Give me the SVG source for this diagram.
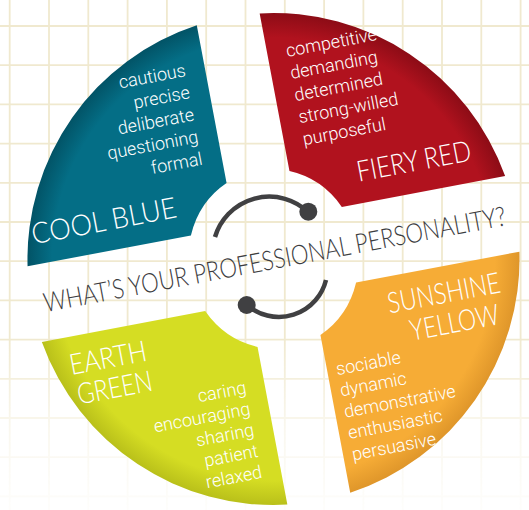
<svg xmlns="http://www.w3.org/2000/svg" width="529" height="510" viewBox="0 0 529 510">
  <defs>
    <style>
      .grid line { stroke: #f0e9cf; stroke-width: 1.8; }
      .word { font-family: Roboto, "Liberation Sans", sans-serif; font-weight: 300; font-size: 18px; fill: #ffffff; }
      .head { font-family: Lato, "Liberation Sans", sans-serif; font-weight: 300; font-size: 29px; fill: #ffffff; }
      .question { font-family: Lato, "Liberation Sans", sans-serif; font-weight: 300; font-size: 27px; fill: #3d3d3f; }
      .loop { fill: none; stroke: #404042; stroke-width: 4.5; }
      .knob { fill: #404042; }
    </style>
    <linearGradient id="fade" x1="0" y1="0" x2="0" y2="510" gradientUnits="userSpaceOnUse">
      <stop offset="0" stop-color="#fff"/>
      <stop offset="0.66" stop-color="#fff"/>
      <stop offset="0.84" stop-color="#fff" stop-opacity="0.35"/>
      <stop offset="1" stop-color="#fff" stop-opacity="0.08"/>
    </linearGradient>
    <mask id="gridMask" maskUnits="userSpaceOnUse" x="0" y="0" width="529" height="510">
      <rect width="529" height="510" fill="url(#fade)"/>
    </mask>
    <radialGradient id="gBlue" gradientUnits="userSpaceOnUse" cx="0" cy="0" r="246">
      <stop offset="0.9" stop-color="#046e86"/>
      <stop offset="1" stop-color="#025366"/>
    </radialGradient>
    <radialGradient id="gRed" gradientUnits="userSpaceOnUse" cx="0" cy="0" r="246">
      <stop offset="0.9" stop-color="#b1121e"/>
      <stop offset="1" stop-color="#8c0c16"/>
    </radialGradient>
    <radialGradient id="gYellow" gradientUnits="userSpaceOnUse" cx="0" cy="0" r="246">
      <stop offset="0.9" stop-color="#f6ac36"/>
      <stop offset="1" stop-color="#df962a"/>
    </radialGradient>
    <radialGradient id="gGreen" gradientUnits="userSpaceOnUse" cx="0" cy="0" r="246">
      <stop offset="0.9" stop-color="#d5dd23"/>
      <stop offset="1" stop-color="#b9c01a"/>
    </radialGradient>
  </defs>

  <rect width="529" height="510" fill="#ffffff"/>

  <!-- graph-paper background, fading out toward the bottom -->
  <g class="grid" mask="url(#gridMask)">
    <line x1="9.7" y1="0" x2="9.7" y2="510"/>
    <line x1="49" y1="0" x2="49" y2="510"/>
    <line x1="88.3" y1="0" x2="88.3" y2="510"/>
    <line x1="127.6" y1="0" x2="127.6" y2="510"/>
    <line x1="166.9" y1="0" x2="166.9" y2="510"/>
    <line x1="206.2" y1="0" x2="206.2" y2="510"/>
    <line x1="245.5" y1="0" x2="245.5" y2="510"/>
    <line x1="284.8" y1="0" x2="284.8" y2="510"/>
    <line x1="324.1" y1="0" x2="324.1" y2="510"/>
    <line x1="363.4" y1="0" x2="363.4" y2="510"/>
    <line x1="402.7" y1="0" x2="402.7" y2="510"/>
    <line x1="442" y1="0" x2="442" y2="510"/>
    <line x1="481.3" y1="0" x2="481.3" y2="510"/>
    <line x1="520.6" y1="0" x2="520.6" y2="510"/>
    <line x1="0" y1="26" x2="529" y2="26"/>
    <line x1="0" y1="65.2" x2="529" y2="65.2"/>
    <line x1="0" y1="104.4" x2="529" y2="104.4"/>
    <line x1="0" y1="143.6" x2="529" y2="143.6"/>
    <line x1="0" y1="182.8" x2="529" y2="182.8"/>
    <line x1="0" y1="222" x2="529" y2="222"/>
    <line x1="0" y1="261.2" x2="529" y2="261.2"/>
    <line x1="0" y1="300.4" x2="529" y2="300.4"/>
    <line x1="0" y1="339.6" x2="529" y2="339.6"/>
    <line x1="0" y1="378.8" x2="529" y2="378.8"/>
    <line x1="0" y1="418" x2="529" y2="418"/>
    <line x1="0" y1="457.2" x2="529" y2="457.2"/>
    <line x1="0" y1="496.4" x2="529" y2="496.4"/>
  </g>

  <!-- the four quadrants, tilted as one wheel -->
  <g transform="translate(273.5 259) rotate(-10.7)">
    <g id="cool-blue">
      <path d="M -32,-83.4 L -32,-243.9 A 246 246 0 0 0 -243,-38.5 L -76.8,-38.5 A 85 90 0 0 1 -32,-83.4 Z" fill="url(#gBlue)"/>
      <g class="word" text-anchor="end">
        <text x="-51.5" y="-196">cautious</text>
        <text x="-51.5" y="-173.5">precise</text>
        <text x="-51.5" y="-151">deliberate</text>
        <text x="-51.5" y="-128.5">questioning</text>
        <text x="-51.5" y="-106">formal</text>
      </g>
      <text class="head" x="-233" y="-59" textLength="147" lengthAdjust="spacingAndGlyphs">COOL BLUE</text>
    </g>

    <g id="fiery-red">
      <path d="M 32,-83.4 L 32,-243.9 A 246 246 0 0 1 243,-38.5 L 76.8,-38.5 A 85 90 0 0 0 32,-83.4 Z" fill="url(#gRed)"/>
      <g class="word">
        <text x="51" y="-196">competitive</text>
        <text x="51" y="-173.5">demanding</text>
        <text x="51" y="-151">determined</text>
        <text x="51" y="-128.5">strong-willed</text>
        <text x="51" y="-106">purposeful</text>
      </g>
      <text class="head" x="98" y="-60" textLength="116" lengthAdjust="spacingAndGlyphs">FIERY RED</text>
    </g>

    <g id="sunshine-yellow">
      <path d="M 32,83.4 L 32,243.9 A 246 246 0 0 0 243,38.5 L 76.8,38.5 A 85 90 0 0 1 32,83.4 Z" fill="url(#gYellow)"/>
      <text class="head" x="104" y="75" textLength="114" lengthAdjust="spacingAndGlyphs">SUNSHINE</text>
      <text class="head" x="121" y="106" textLength="90" lengthAdjust="spacingAndGlyphs">YELLOW</text>
      <g class="word">
        <text x="41" y="126">sociable</text>
        <text x="41" y="147.7">dynamic</text>
        <text x="41" y="169.4">demonstrative</text>
        <text x="41" y="191">enthusiastic</text>
        <text x="41" y="212.7">persuasive</text>
      </g>
    </g>

    <g id="earth-green">
      <path d="M -32,83.4 L -32,243.9 A 246 246 0 0 1 -243,38.5 L -76.8,38.5 A 85 90 0 0 0 -32,83.4 Z" fill="url(#gGreen)"/>
      <text class="head" x="-220" y="76.4" textLength="78" lengthAdjust="spacingAndGlyphs">EARTH</text>
      <text class="head" x="-218" y="107" textLength="76" lengthAdjust="spacingAndGlyphs">GREEN</text>
      <g class="word" text-anchor="end">
        <text x="-51" y="127">caring</text>
        <text x="-51" y="148.5">encouraging</text>
        <text x="-51" y="170">sharing</text>
        <text x="-51" y="191.5">patient</text>
        <text x="-51" y="213">relaxed</text>
      </g>
    </g>

    <g id="question">
      <text class="question" x="1" y="10" text-anchor="middle" textLength="470" lengthAdjust="spacingAndGlyphs">WHAT’S YOUR PROFESSIONAL PERSONALITY?</text>
    </g>
  </g>

  <!-- cycle arrows in the hub -->
  <g id="cycle">
    <path class="loop" d="M 215,237 A 56.6 56.6 0 0 1 308,212"/>
    <circle class="knob" cx="308.3" cy="211.7" r="9"/>
    <path class="loop" d="M 247,305 A 48.5 48.5 0 0 0 326,280"/>
    <circle class="knob" cx="246.7" cy="305" r="9"/>
  </g>
</svg>
